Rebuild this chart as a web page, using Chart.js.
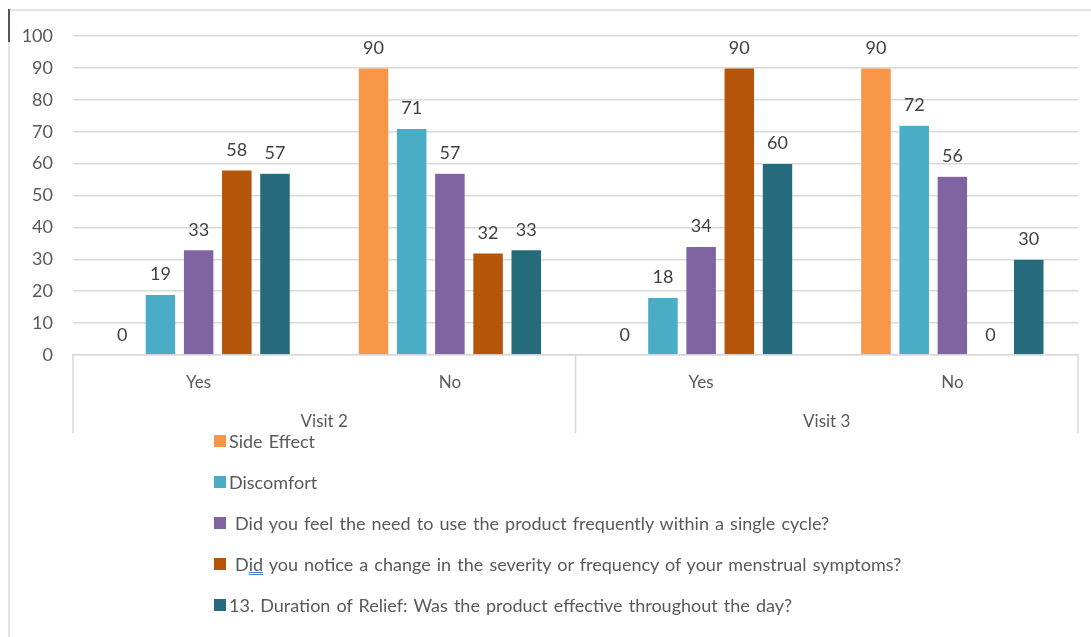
<!DOCTYPE html>
<html>
<head>
<meta charset="utf-8">
<script src="https://cdn.jsdelivr.net/npm/chart.js@4.4.1/dist/chart.umd.min.js"></script>
<style>
  body { margin: 0; background: #fff; width: 1091px; height: 637px; overflow: hidden; position: relative; font-family: Lato, sans-serif; }
  #chartBox { position: absolute; left: 0; top: 0; }
  .frame { position: absolute; background: #e2e2e2; }
  #frameTop { left: 8px; top: 9px; right: 0; height: 2px; }
  #frameLeft { left: 8px; top: 9px; bottom: 0; width: 2px; }
  #frameMark { left: 8px; top: 9px; width: 2px; height: 33px; background: #555; }
  #legend { position: absolute; left: 214px; top: 420px; }
  .item { height: 41px; display: flex; align-items: center; font-size: 18px; word-spacing: 1.5px; color: #595959; white-space: pre; }
  .sw { width: 12px; height: 12px; margin-right: 3px; flex: none; }
  .spell { text-decoration: underline double #4a7bd8; }
</style>
</head>
<body>
<div id="chartBox"><canvas id="chart" width="1091" height="445"></canvas></div>
<div class="frame" id="frameTop"></div>
<div class="frame" id="frameLeft"></div>
<div class="frame" id="frameMark"></div>
<div id="legend"></div>
<script>
const groups = ["Visit 2", "Visit 3"];
const answers = ["Yes", "No", "Yes", "No"];
const seriesNames = [
  "Side Effect",
  "Discomfort",
  " Did you feel the need to use the product frequently within a single cycle?",
  " Did you notice a change in the severity or frequency of your menstrual symptoms?",
  "13. Duration of Relief: Was the product effective throughout the day?"
];
const sideEffect = [0, 90, 0, 90];
const discomfort = [19, 71, 18, 72];
const frequentUse = [33, 57, 34, 56];
const symptomChange = [58, 32, 90, 0];
const reliefDuration = [57, 33, 60, 30];
const yTicks = [0, 10, 20, 30, 40, 50, 60, 70, 80, 90, 100];
const colors = ["#F79646", "#4BACC6", "#8064A2", "#B5550A", "#266B7B"];

const seriesValues = [sideEffect, discomfort, frequentUse, symptomChange, reliefDuration];

Chart.defaults.font.family = "Lato";
Chart.defaults.font.size = 17;
Chart.defaults.color = "#595959";

// value above every bar, zeros included
const barValues = {
  id: "barValues",
  afterDatasetsDraw(chart) {
    const ctx = chart.ctx;
    ctx.save();
    ctx.font = "18px Lato";
    ctx.fillStyle = "#404040";
    ctx.textAlign = "center";
    ctx.textBaseline = "middle";
    chart.data.datasets.forEach((ds, i) => {
      chart.getDatasetMeta(i).data.forEach((bar, j) => {
        ctx.fillText(ds.data[j], bar.x, bar.y - 20);
      });
    });
    ctx.restore();
  }
};

// vertical dividers around the visit groups under the axis
const groupLines = {
  id: "groupLines",
  afterDraw(chart) {
    const x = chart.scales.x, x2 = chart.scales.x2, ctx = chart.ctx;
    const mid = (x.getPixelForValue(1) + x.getPixelForValue(2)) / 2;
    ctx.save();
    ctx.strokeStyle = "#d9d9d9";
    ctx.lineWidth = 1.5;
    [x.left, mid, x.right].forEach(px => {
      ctx.beginPath();
      ctx.moveTo(px, x.top);
      ctx.lineTo(px, x2.bottom);
      ctx.stroke();
    });
    ctx.restore();
  }
};

new Chart(document.getElementById("chart"), {
  type: "bar",
  data: {
    labels: answers,
    datasets: seriesNames.map((name, i) => ({
      label: name,
      data: seriesValues[i],
      backgroundColor: colors[i],
      borderColor: "rgba(255,255,255,0.3)",
      borderWidth: 0.5,
      categoryPercentage: 0.76,
      barPercentage: 0.8
    }))
  },
  options: {
    responsive: false,
    animation: false,
    layout: { padding: { top: 36, right: 13, left: 0, bottom: 12 } },
    plugins: { legend: { display: false }, tooltip: { enabled: false } },
    scales: {
      y: {
        min: 0,
        max: 100,
        afterBuildTicks: s => { s.ticks = yTicks.map(v => ({ value: v })); },
        afterFit: s => { s.width = 73; },
        ticks: { padding: 20, color: "#595959", font: { size: 18 } },
        grid: { color: "#d9d9d9", lineWidth: 1.5, drawTicks: false },
        border: { display: false }
      },
      x: {
        weight: 0,
        afterFit: s => { s.height = 40; },
        ticks: { padding: 9, color: "#595959" },
        grid: { display: false },
        border: { color: "#d9d9d9", width: 1.5 }
      },
      x2: {
        type: "category",
        labels: groups,
        position: "bottom",
        weight: 1,
        offset: true,
        afterFit: s => { s.height = 38; },
        ticks: { padding: 8, color: "#595959" },
        grid: { display: false },
        border: { display: false }
      }
    }
  },
  plugins: [barValues, groupLines]
});

// legend list under the chart
const legend = document.getElementById("legend");
seriesNames.forEach((name, i) => {
  const item = document.createElement("div");
  item.className = "item";
  const sw = document.createElement("span");
  sw.className = "sw";
  sw.style.background = colors[i];
  const txt = document.createElement("span");
  if (i === 3) {
    txt.innerHTML = " D<span class=\"spell\">id</span>" + name.slice(4);
  } else {
    txt.textContent = name;
  }
  item.appendChild(sw);
  item.appendChild(txt);
  legend.appendChild(item);
});
</script>
</body>
</html>
